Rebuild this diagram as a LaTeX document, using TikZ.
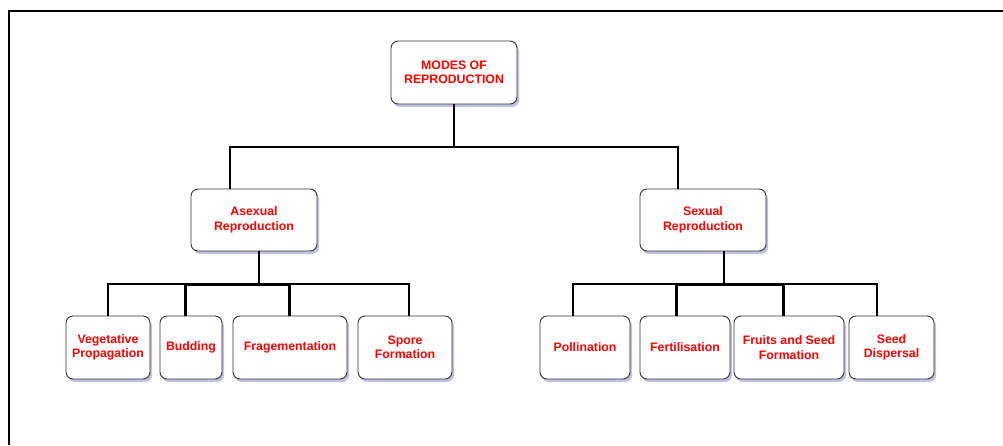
\documentclass[tikz,border=0pt]{standalone}
\usepackage{fontspec}
\setmainfont{Liberation Sans}
\usetikzlibrary{shadows}
\tikzset{
  box/.style={draw=black!80, line width=0.9pt, rounded corners=7pt, fill=white,
    text=red, font=\bfseries\fontsize{12.3}{14.5}\selectfont, align=center, inner sep=0pt,
    drop shadow={shadow xshift=2pt, shadow yshift=-3pt, opacity=0.35, fill=blue!40!gray}},
  link/.style={line width=1.6pt},
  heavylink/.style={line width=3pt}
}
\begin{document}
\begin{tikzpicture}[x=1pt,y=-1pt]
		\useasboundingbox (0,0) rectangle (1003,445);
		\draw[line width=2pt] (9,445) -- (9,11) -- (1003,11);
		% top level
		\node[box, minimum width=126pt, minimum height=63pt] (modes) at (454,72.5) {MODES OF\\REPRODUCTION};
		\node[box, minimum width=126pt, minimum height=62pt] (asexual) at (254,220) {Asexual\\Reproduction};
		\node[box, minimum width=126pt, minimum height=62pt] (sexual) at (703,220) {Sexual\\Reproduction};
		% asexual kinds
		\node[box, minimum width=84pt, minimum height=63pt] (veg) at (108,347.5) {Vegetative\\Propagation};
		\node[box, minimum width=62pt, minimum height=63pt] (bud) at (191,347.5) {Budding};
		\node[box, minimum width=114pt, minimum height=63pt] (frag) at (290,347.5) {Fragementation};
		\node[box, minimum width=94pt, minimum height=63pt] (spore) at (405,347.5) {Spore\\Formation};
		% sexual kinds
		\node[box, minimum width=90pt, minimum height=63pt] (poll) at (585,347.5) {Pollination};
		\node[box, minimum width=90pt, minimum height=63pt] (fert) at (685,347.5) {Fertilisation};
		\node[box, minimum width=110pt, minimum height=63pt] (fruit) at (789,347.5) {Fruits and Seed\\Formation};
		\node[box, minimum width=85pt, minimum height=63pt] (disp) at (891.5,347.5) {Seed\\Dispersal};
		% links
		\coordinate (top) at (454,147);
		\coordinate (left) at (259,284);
		\coordinate (right) at (724,284);
		\draw[link] (modes) -- (top);
		\draw[link] (top) -| ([xshift=-24pt]asexual.north);
		\draw[link] (top) -| ([xshift=-25pt]sexual.north);
		\draw[link] ([xshift=5pt]asexual.south) -- (left);
		\draw[link] (left) -| (veg.north);
		\draw[heavylink] (left) -| ([xshift=-6pt]bud.north);
		\draw[heavylink] (left) -| ([xshift=-1pt]frag.north);
		\draw[link] (left) -| ([xshift=4pt]spore.north);
		\draw[link] ([xshift=21pt]sexual.south) -- (right);
		\draw[link] (right) -| ([xshift=-12pt]poll.north);
		\draw[heavylink] (right) -| ([xshift=-9pt]fert.north);
		\draw[heavylink] (right) -| ([xshift=-6pt]fruit.north);
		\draw[link] (right) -| ([xshift=-14.5pt]disp.north);
	\end{tikzpicture}
\end{document}
